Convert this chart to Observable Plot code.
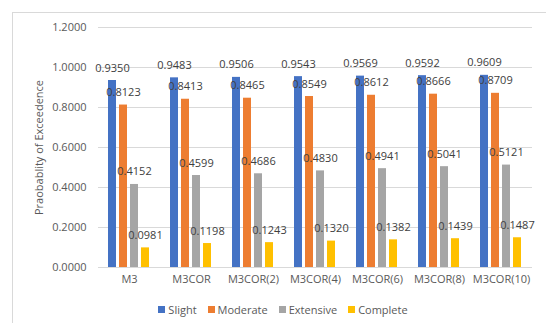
<!DOCTYPE html>
<html>
<head>
<meta charset="utf-8">
<script src="https://cdn.jsdelivr.net/npm/d3@7"></script>
<script src="https://cdn.jsdelivr.net/npm/@observablehq/plot@0.6"></script>
<style>
  html, body { margin: 0; padding: 0; background: #fff; overflow: hidden; }
  #wrap { position: relative; width: 546px; height: 323px; font-family: "Open Sans", sans-serif; }
  #frame { position: absolute; left: 12px; top: 12px; width: 600px; height: 400px; border: 1px solid #d9d9d9; pointer-events: none; }
  #chart { position: absolute; left: 0; top: 0; }
  #legend { position: absolute; left: 0; top: 302px; width: 546px; display: flex; justify-content: center; gap: 11px; font-size: 11px; color: #595959; padding-left: 20px; box-sizing: border-box; }
  #legend span.item { display: flex; align-items: center; gap: 3px; }
  #legend span.sw { width: 7px; height: 7px; display: inline-block; }
</style>
</head>
<body>
<div id="wrap">
  <div id="frame"></div>
  <div id="chart"></div>
  <div id="legend"></div>
</div>
<script>
const groups = ["M3", "M3COR", "M3COR(2)", "M3COR(4)", "M3COR(6)", "M3COR(8)", "M3COR(10)"];
const seriesNames = ["Slight", "Moderate", "Extensive", "Complete"];
const slight    = [0.9350, 0.9483, 0.9506, 0.9543, 0.9569, 0.9592, 0.9609];
const moderate  = [0.8123, 0.8413, 0.8465, 0.8549, 0.8612, 0.8666, 0.8709];
const extensive = [0.4152, 0.4599, 0.4686, 0.4830, 0.4941, 0.5041, 0.5121];
const complete  = [0.0981, 0.1198, 0.1243, 0.1320, 0.1382, 0.1439, 0.1487];
const yTicks = [0, 0.2, 0.4, 0.6, 0.8, 1.0, 1.2];
const colors = ["#4472C4", "#ED7D31", "#A5A5A5", "#FFC000"];

const seriesValues = [slight, moderate, extensive, complete];
const data = [];
groups.forEach((g, i) => {
  seriesNames.forEach((s, j) => {
    data.push({group: g, series: s, value: seriesValues[j][i]});
  });
});

const chart = Plot.plot({
  width: 546,
  height: 296,
  marginLeft: 95,
  marginRight: 12,
  marginTop: 27,
  marginBottom: 29,
  style: {fontFamily: "Open Sans", fontSize: "11px", color: "#595959", background: "transparent", overflow: "visible"},
  fx: {domain: groups, padding: 0, label: null, axis: "bottom", tickSize: 0, tickPadding: 8},
  x: {domain: seriesNames, axis: null, paddingInner: 0.256, paddingOuter: 0.81},
  y: {
    domain: [0, 1.2],
    ticks: yTicks,
    tickFormat: d3.format(".4f"),
    tickSize: 0,
    tickPadding: 12,
    label: "Praobablity of Exceedence",
    labelAnchor: "center",
    labelOffset: 63,
    labelArrow: "none"
  },
  color: {domain: seriesNames, range: colors},
  marks: [
    Plot.gridY(yTicks, {stroke: "#d9d9d9", strokeOpacity: 1}),
    Plot.barY(data, {fx: "group", x: "series", y: "value", fill: "series"}),
    Plot.text(data, {fx: "group", x: "series", y: "value", text: d => d.value.toFixed(4), dy: -12.5, fill: "#404040", fontSize: 11})
  ]
});
document.getElementById("chart").appendChild(chart);

const legend = document.getElementById("legend");
seriesNames.forEach((s, j) => {
  const item = document.createElement("span");
  item.className = "item";
  const sw = document.createElement("span");
  sw.className = "sw";
  sw.style.background = colors[j];
  item.appendChild(sw);
  item.appendChild(document.createTextNode(s));
  legend.appendChild(item);
});
</script>
</body>
</html>
